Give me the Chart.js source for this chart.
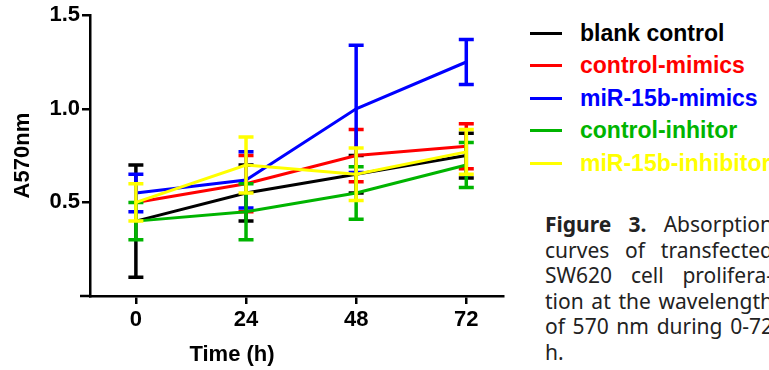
<!DOCTYPE html>
<html>
<head>
<meta charset="utf-8">
<script src="https://cdn.jsdelivr.net/npm/chart.js@4.4.1/dist/chart.umd.min.js"></script>
<style>
  html, body { margin: 0; padding: 0; background: #fff; }
  body { width: 769px; height: 370px; position: relative; overflow: hidden; font-family: "Liberation Sans", Arial, sans-serif; }
  #chartBox { position: absolute; left: 0; top: 0; width: 520px; height: 370px; }
  #xTitle { position: absolute; left: 182px; top: 341px; width: 100px; text-align: center; font-weight: bold; font-size: 22px; color: #000; }
  #legend { position: absolute; left: 530px; top: 17px; }
  .leg-row { height: 32.5px; display: flex; align-items: center; white-space: nowrap; }
  .leg-line { width: 32px; height: 3px; margin-right: 18px; }
  .leg-text { font-weight: bold; font-size: 23px; }
  #caption { position: absolute; left: 545px; top: 212px; width: 228px; font-family: "Noto Sans", sans-serif; font-size: 21px; line-height: 25.5px; color: #222; }
  #caption div { text-align: justify; text-align-last: justify; white-space: nowrap; }
  #caption div.last { text-align-last: left; }
</style>
</head>
<body>
<div id="chartBox"><canvas id="chart" width="520" height="370"></canvas></div>
<div id="xTitle">Time (h)</div>
<div id="legend"></div>
<div id="caption">
  <div><b>Figure 3.</b> Absorption</div>
  <div>curves of transfected</div>
  <div>SW620 cell prolifera-</div>
  <div>tion at the wavelength</div>
  <div>of 570 nm during 0-72</div>
  <div class="last">h.</div>
</div>
<script>
// Time points (h) and series
const timePoints = [0, 24, 48, 72];
const seriesNames = ['blank control', 'control-mimics', 'miR-15b-mimics', 'control-inhitor', 'miR-15b-inhibitor'];
const seriesColors = ['#000000', '#ff0000', '#0000ff', '#00b400', '#ffff00'];

const blankControl = [0.40, 0.55, 0.65, 0.75];
const controlMimics = [0.50, 0.60, 0.75, 0.80];
const mir15bMimics = [0.55, 0.62, 1.00, 1.25];
const controlInhibitor = [0.40, 0.45, 0.55, 0.70];
const mir15bInhibitor = [0.50, 0.70, 0.65, 0.77];

// error bar half-heights (SD)
const blankControlErr = [0.30, 0.15, 0.10, 0.12];
const controlMimicsErr = [0.00, 0.15, 0.14, 0.12];
const mir15bMimicsErr = [0.10, 0.15, 0.34, 0.12];
const controlInhibitorErr = [0.10, 0.15, 0.14, 0.12];
const mir15bInhibitorErr = [0.10, 0.15, 0.14, 0.12];

const yTicks = [0.5, 1.0, 1.5];

const seriesValues = [blankControl, controlMimics, mir15bMimics, controlInhibitor, mir15bInhibitor];
const seriesErrors = [blankControlErr, controlMimicsErr, mir15bMimicsErr, controlInhibitorErr, mir15bInhibitorErr];

// HTML legend
const legendEl = document.getElementById('legend');
seriesNames.forEach((name, i) => {
  const row = document.createElement('div');
  row.className = 'leg-row';
  row.innerHTML = '<span class="leg-line" style="background:' + seriesColors[i] + '"></span>' +
    '<span class="leg-text" style="color:' + seriesColors[i] + '">' + name + '</span>';
  legendEl.appendChild(row);
});

// Draw vertical error bars with caps after each dataset
const errorBarPlugin = {
  id: 'errorBars',
  afterDatasetDraw(chart, args) {
    const ds = chart.data.datasets[args.index];
    const yScale = chart.scales.y;
    const ctx = chart.ctx;
    ctx.save();
    ctx.strokeStyle = ds.borderColor;
    ctx.lineWidth = 3.5;
    ctx.lineCap = 'butt';
    args.meta.data.forEach((pt, i) => {
      const v = ds.data[i].y;
      const e = ds.errorBars[i];
      if (!e) return;
      const top = yScale.getPixelForValue(v + e);
      const bot = yScale.getPixelForValue(v - e);
      ctx.beginPath();
      ctx.moveTo(pt.x, top);
      ctx.lineTo(pt.x, bot);
      ctx.moveTo(pt.x - 7.5, top);
      ctx.lineTo(pt.x + 7.5, top);
      ctx.moveTo(pt.x - 7.5, bot);
      ctx.lineTo(pt.x + 7.5, bot);
      ctx.stroke();
    });
    ctx.restore();
  }
};

// x axis line runs a little past the y axis, Prism style
const axisStubPlugin = {
  id: 'axisStub',
  afterDraw(chart) {
    const { ctx, chartArea } = chart;
    ctx.save();
    ctx.strokeStyle = '#000';
    ctx.lineWidth = 2.5;
    ctx.beginPath();
    ctx.moveTo(chartArea.left - 10, chartArea.bottom);
    ctx.lineTo(chartArea.left, chartArea.bottom);
    ctx.stroke();
    ctx.restore();
  }
};

const tickFont = { family: '"Liberation Sans", Arial, sans-serif', size: 22, weight: 'bold' };

new Chart(document.getElementById('chart'), {
  type: 'line',
  data: {
    datasets: seriesNames.map((name, i) => ({
      label: name,
      data: timePoints.map((t, j) => ({ x: t, y: seriesValues[i][j] })),
      errorBars: seriesErrors[i],
      borderColor: seriesColors[i],
      backgroundColor: seriesColors[i],
      borderWidth: 3,
      pointRadius: 0,
      tension: 0,
      fill: false,
      order: seriesNames.length - i
    }))
  },
  options: {
    responsive: false,
    animation: false,
    layout: { padding: { top: 15, right: 17, left: 0, bottom: 0 } },
    plugins: {
      legend: { display: false },
      tooltip: { enabled: false }
    },
    scales: {
      x: {
        type: 'linear',
        min: -10,
        max: 80,
        afterBuildTicks: scale => { scale.ticks = timePoints.map(v => ({ value: v })); },
        afterFit: scale => { scale.height = 74; },
        ticks: { color: '#000', font: tickFont, padding: 3, maxRotation: 0, callback: v => String(v) },
        grid: { drawOnChartArea: false, drawTicks: true, tickLength: 8, color: '#000', lineWidth: 2.5 },
        border: { display: true, color: '#000', width: 2.5 }
      },
      y: {
        min: 0,
        max: 1.5,
        afterBuildTicks: scale => { scale.ticks = yTicks.map(v => ({ value: v })); },
        afterFit: scale => { scale.width = 90; },
        ticks: { color: '#000', font: tickFont, padding: 2, callback: v => v.toFixed(1) },
        grid: { drawOnChartArea: false, drawTicks: true, tickLength: 8, color: '#000', lineWidth: 2.5 },
        border: { display: true, color: '#000', width: 2.5 },
        title: { display: true, text: 'A570nm', color: '#000', font: tickFont, padding: { top: 10 } }
      }
    }
  },
  plugins: [errorBarPlugin, axisStubPlugin]
});
</script>
</body>
</html>
